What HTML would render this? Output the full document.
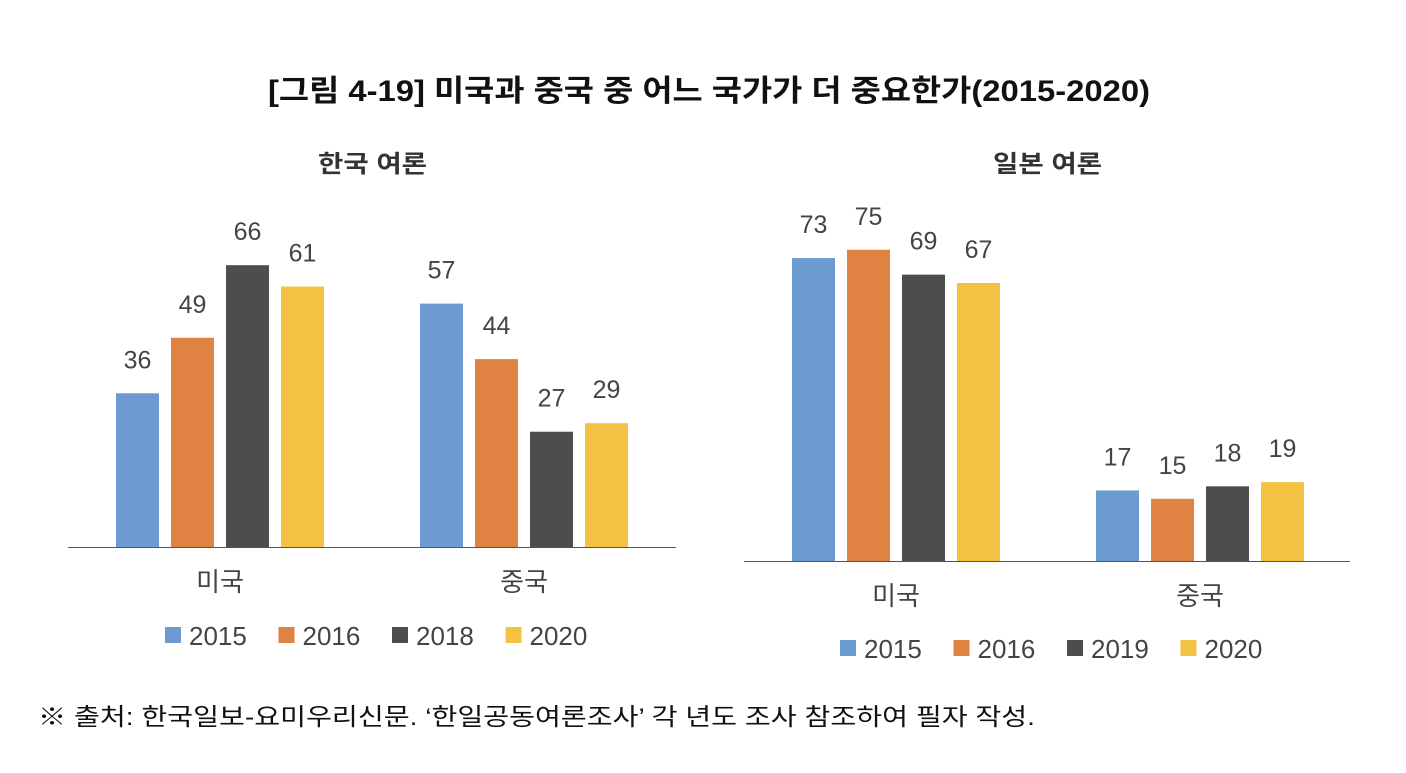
<!DOCTYPE html>
<html><head><meta charset="utf-8"><style>
html,body{margin:0;padding:0;background:#fff;}
body{width:1406px;height:768px;overflow:hidden;font-family:"Liberation Sans","Noto Sans CJK KR",sans-serif;}
</style></head><body>
<svg id="c" width="1406" height="768" xmlns="http://www.w3.org/2000/svg" font-family="Liberation Sans, Noto Sans CJK KR, sans-serif">
<text x="268" y="101" textLength="882" lengthAdjust="spacingAndGlyphs" font-size="30" font-weight="bold" fill="#111">[그림 4-19] 미국과 중국 중 어느 국가가 더 중요한가(2015-2020)</text>
<text x="318" y="172" textLength="109" lengthAdjust="spacingAndGlyphs" font-size="24" font-weight="bold" fill="#333">한국 여론</text>
<text x="993" y="172" textLength="109" lengthAdjust="spacingAndGlyphs" font-size="24" font-weight="bold" fill="#333">일본 여론</text>
<text x="38" y="725" textLength="997" lengthAdjust="spacingAndGlyphs" font-size="24" fill="#111">※ 출처: 한국일보-요미우리신문. ‘한일공동여론조사’ 각 년도 조사 참조하여 필자 작성.</text>
</svg>
<script>
const categories = ["미국", "중국"];
const colors = ["#6b9bd1", "#e08242", "#4d4d4f", "#f4c243"];
const koreaYears = ["2015", "2016", "2018", "2020"];
const koreaUS = [36, 49, 66, 61];
const koreaCN = [57, 44, 27, 29];
const japanYears = ["2015", "2016", "2019", "2020"];
const japanUS = [73, 75, 69, 67];
const japanCN = [17, 15, 18, 19];

const svg = document.getElementById('c');
const NS = 'http://www.w3.org/2000/svg';
function mk(tag, attrs, parent) {
  const e = document.createElementNS(NS, tag);
  for (const k in attrs) e.setAttribute(k, attrs[k]);
  (parent || svg).appendChild(e);
  return e;
}
function drawChart(prefix, cfg, years, series) {
  const g = mk('g', {});
  
  
  const y = v => cfg.base - v * cfg.scale;
  const ax = mk('line', {x1: cfg.x0, x2: cfg.x1, y1: cfg.base + 0.5, y2: cfg.base + 0.5, stroke: '#555', 'stroke-width': 1}, g);
  
  
  series.forEach((vals, ci) => {
    const gx = cfg.groupX[ci];
    vals.forEach((v, si) => {
      const bx = gx + si * 55;
      const r = mk('rect', {x: bx, y: y(v), width: 43, height: cfg.base - y(v), fill: colors[si]}, g);
      
      
      const t = mk('text', {x: bx + 21.5, y: y(v) - 25, 'text-anchor': 'middle', 'font-size': 25, fill: '#444'}, g);
      t.textContent = v;
      
      
    });
    const ct = mk('text', {x: gx + 104, y: cfg.base + 44, 'text-anchor': 'middle', 'font-size': 26, fill: '#444'}, g);
    ct.textContent = categories[ci];
    
    
  });
  years.forEach((yr, i) => {
    const lx = cfg.legX + i * 113.5;
    const sq = mk('rect', {x: lx, y: cfg.legY - 8, width: 16, height: 16, fill: colors[i]}, g);
    
    
    const lt = mk('text', {x: lx + 24, y: cfg.legY + 10, 'font-size': 26, fill: '#444'}, g);
    lt.textContent = yr;
    
    
  });
}
drawChart('korea', {base: 547, scale: 4.27, x0: 68, x1: 676, groupX: [116, 420], legX: 165, legY: 635}, koreaYears, [koreaUS, koreaCN]);
drawChart('japan', {base: 561, scale: 4.15, x0: 744, x1: 1350, groupX: [792, 1096], legX: 840, legY: 648}, japanYears, [japanUS, japanCN]);
</script>
</body></html>
